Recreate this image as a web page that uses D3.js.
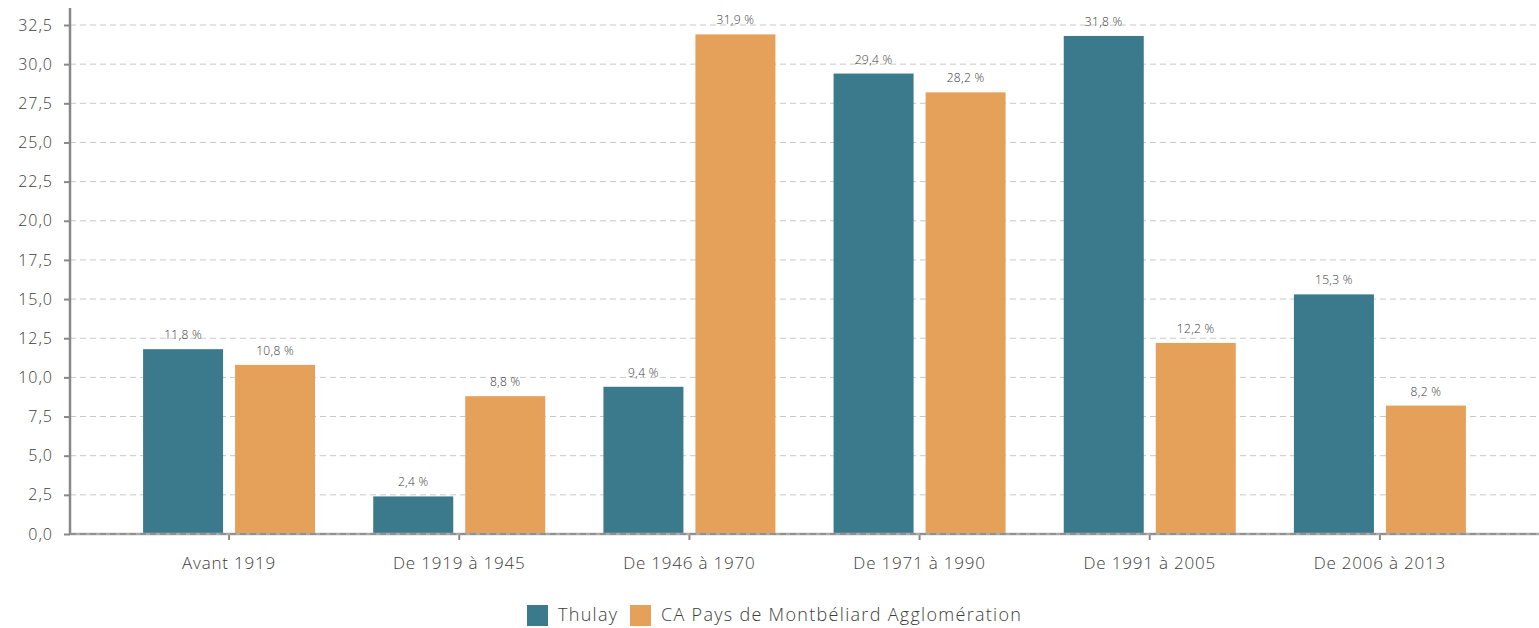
<!DOCTYPE html>
<html>
<head>
<meta charset="utf-8">
<script src="https://cdn.jsdelivr.net/npm/d3@7"></script>
<style>
  body { margin: 0; background: #fff; }
  text { font-family: "Open Sans", sans-serif; fill: #3c3c3c; }
</style>
</head>
<body>
<div id="chart"></div>
<script>
// data
var categories = ["Avant 1919", "De 1919 à 1945", "De 1946 à 1970", "De 1971 à 1990", "De 1991 à 2005", "De 2006 à 2013"];
var seriesNames = ["Thulay", "CA Pays de Montbéliard Agglomération"];
var thulay = [11.8, 2.4, 9.4, 29.4, 31.8, 15.3];
var capm = [10.8, 8.8, 31.9, 28.2, 12.2, 8.2];
var yTicks = [0, 2.5, 5, 7.5, 10, 12.5, 15, 17.5, 20, 22.5, 25, 27.5, 30, 32.5];
var colors = ["#3a7a8c", "#e5a05a"];

var svgWidth = 1539, svgHeight = 628;
var svg = d3.select("#chart").append("svg")
  .attr("width", svgWidth)
  .attr("height", svgHeight);

var axisX = 70, baseY = 534;

var yScale = d3.scaleLinear()
  .domain([0, 32.5])
  .range([baseY, 25]);

var xScale = d3.scaleBand()
  .domain(categories)
  .range([114, 1495]);

// two bars per group, 80px wide with a 12px gap
var inner = d3.scaleBand()
  .domain(seriesNames)
  .range([xScale.bandwidth() / 2 - 86, xScale.bandwidth() / 2 + 86])
  .paddingInner(12 / 92);

var fmt = function(v) { return d3.format(".1f")(v).replace(".", ","); };

// grid lines
svg.append("g").selectAll("line").data(yTicks).enter()
  .append("line")
  .attr("x1", axisX).attr("x2", svgWidth)
  .attr("y1", d => yScale(d)).attr("y2", d => yScale(d))
  .attr("stroke", "#c8c8c8")
  .attr("stroke-dasharray", "6,4");

// y axis
var leftAxis = d3.axisLeft(yScale)
  .tickValues(yTicks)
  .tickSize(6)
  .tickPadding(11)
  .tickFormat(fmt);

var yg = svg.append("g")
  .attr("transform", `translate(${axisX},0)`)
  .call(leftAxis);
yg.select(".domain").remove();
yg.selectAll(".tick line").attr("stroke", "#888").attr("stroke-width", 2);
yg.selectAll(".tick text").attr("font-size", 16).attr("fill", "#3c3c3c")
  .attr("font-family", "Open Sans, sans-serif").attr("font-weight", 300)
  .attr("letter-spacing", 1);

svg.append("line")
  .attr("x1", axisX).attr("x2", axisX)
  .attr("y1", 8).attr("y2", baseY + 1)
  .attr("stroke", "#888").attr("stroke-width", 2.5);

// bars
var rows = categories.map((c, i) => ({ cat: c, vals: [thulay[i], capm[i]] }));

var groups = svg.append("g").selectAll("g").data(rows).enter()
  .append("g")
  .attr("transform", d => `translate(${xScale(d.cat)},0)`);

groups.selectAll("rect")
  .data(d => d.vals.map((v, j) => ({ name: seriesNames[j], v: v, j: j })))
  .enter().append("rect")
  .attr("x", d => inner(d.name))
  .attr("width", inner.bandwidth())
  .attr("y", d => yScale(d.v))
  .attr("height", d => baseY - yScale(d.v))
  .attr("fill", d => colors[d.j]);

groups.selectAll("text")
  .data(d => d.vals.map((v, j) => ({ name: seriesNames[j], v: v })))
  .enter().append("text")
  .attr("x", d => inner(d.name) + inner.bandwidth() / 2)
  .attr("y", d => yScale(d.v) - 10)
  .attr("text-anchor", "middle")
  .attr("font-size", 12)
  .attr("font-weight", 300)
  .attr("letter-spacing", 0.3)
  .text(d => fmt(d.v) + " %");

// x axis
var bottomAxis = d3.axisBottom(xScale).tickSize(6).tickPadding(17);
var xg = svg.append("g")
  .attr("transform", `translate(0,${baseY})`)
  .call(bottomAxis);
xg.select(".domain").remove();
xg.selectAll(".tick line").attr("stroke", "#888").attr("stroke-width", 2);
xg.selectAll(".tick text").attr("font-size", 17).attr("fill", "#3c3c3c")
  .attr("font-family", "Open Sans, sans-serif").attr("font-weight", 300)
  .attr("letter-spacing", 0.8);

svg.append("line")
  .attr("x1", axisX).attr("x2", svgWidth)
  .attr("y1", baseY).attr("y2", baseY)
  .attr("stroke", "#aaa").attr("stroke-width", 2.5);
svg.append("line")
  .attr("x1", axisX).attr("x2", svgWidth)
  .attr("y1", baseY).attr("y2", baseY)
  .attr("stroke", "#888").attr("stroke-width", 1.5)
  .attr("stroke-dasharray", "6,4");

// legend
var legendX = [527, 630];
var lg = svg.append("g").selectAll("g").data(seriesNames).enter()
  .append("g")
  .attr("transform", (d, i) => `translate(${legendX[i]},605)`);
lg.append("rect").attr("width", 21).attr("height", 21).attr("fill", (d, i) => colors[i]);
lg.append("text").attr("x", 31).attr("y", 16)
  .attr("font-size", 18).attr("font-weight", 300)
  .attr("letter-spacing", 1.3)
  .text(d => d);
</script>
</body>
</html>
